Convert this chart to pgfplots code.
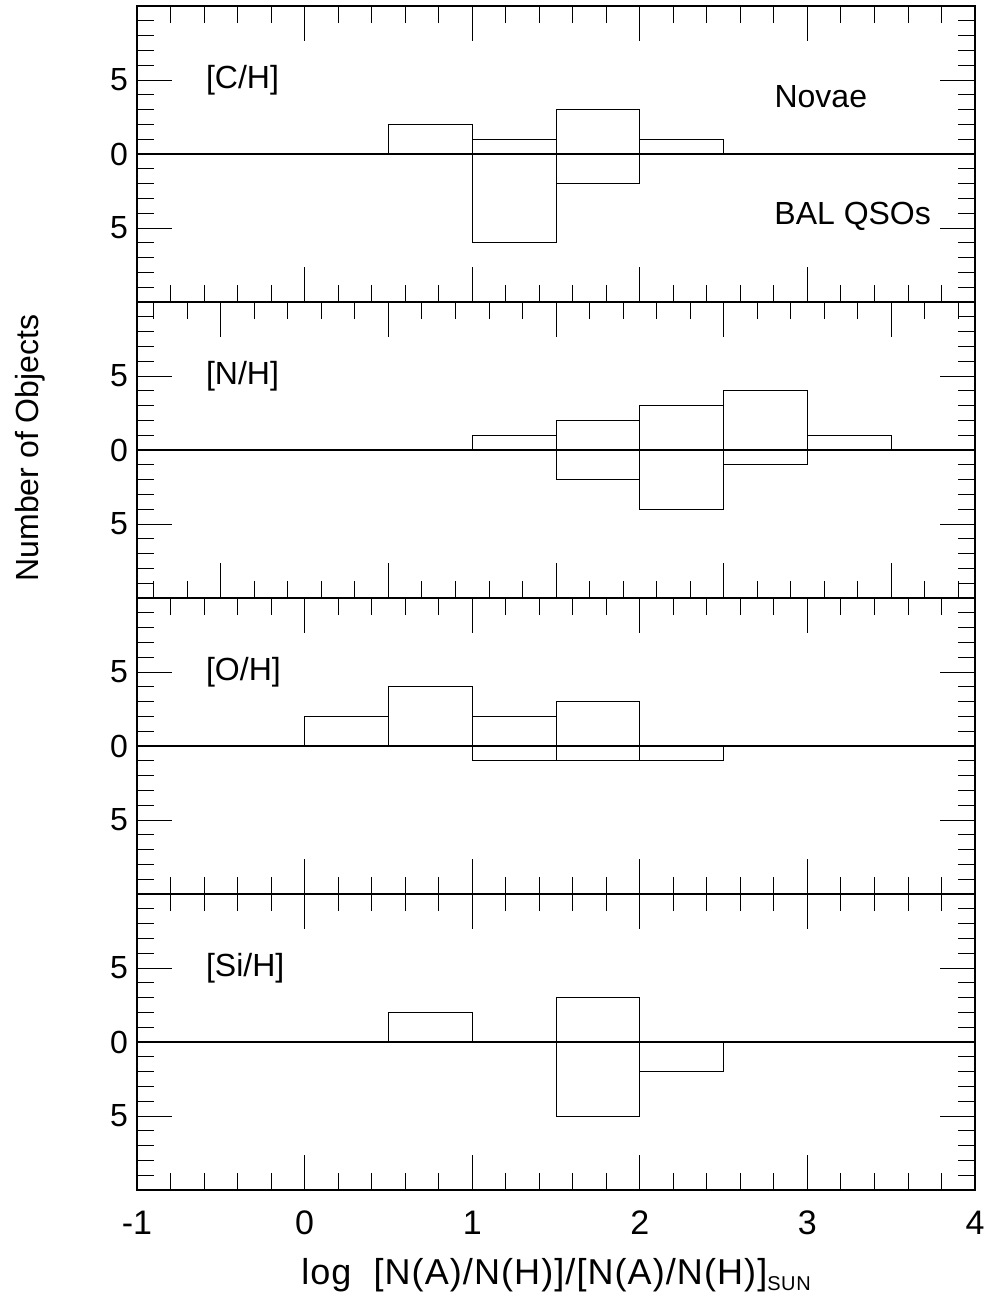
\documentclass[border=0pt]{standalone}
\usepackage{fontspec}
\setmainfont{Liberation Sans}
\usepackage{pgfplots}
\pgfplotsset{compat=1.18}

\tikzset{
  tag/.style={font=\fontsize{16}{18}\selectfont, anchor=west},
}
\pgfplotsset{
  panel/.style={
    scale only axis, width=419pt, height=148pt,
    xmin=-1, xmax=4, ymin=-10, ymax=10,
    xtick={-1,...,4}, minor xtick={-0.8,-0.6,...,3.9},
    ytick={-5,0,5}, yticklabels={5,0,5},
    minor ytick={-9,...,9},
    xtick pos=both, ytick pos=both, tick align=inside,
    major tick length=17.5pt, minor tick length=8.5pt,
    every tick/.style={black, line width=0.45pt},
    axis line style={black, line width=0.8pt},
    xticklabels={},
    yticklabel style={font=\fontsize{16}{18}\selectfont, xshift=-1pt},
    /pgf/number format/assume math mode=true,
    clip=false,
  },
  hbar/.style={ybar interval, draw=black, fill=none, line width=0.5pt},
  zline/.style={black, line width=1pt},
}

\begin{document}
\begin{tikzpicture}
% counts per 0.5 dex bin; the last point closes the interval
\begin{axis}[panel, name=p1]
\addplot[zline] coordinates {(-1,0) (4,0)};
\addplot[hbar] coordinates {(0.5,2) (1.0,1) (1.5,3) (2.0,1) (2.5,0)};
\addplot[hbar] coordinates {(1.0,-6) (1.5,-2) (2.0,0)};
\node[tag] at (axis cs:-0.63,5) {[C/H]};
\node[font=\fontsize{16}{18}\selectfont] at (axis cs:3.08,3.9) {Novae};
\node[font=\fontsize{16}{18}\selectfont] at (axis cs:3.27,-4.2) {BAL QSOs};
\end{axis}

\begin{axis}[panel, name=p2, at={(p1.south west)}, anchor=north west,
  xtick={-0.5,0.5,...,3.6}, minor xtick={-0.9,-0.7,...,3.95}]
\addplot[zline] coordinates {(-1,0) (4,0)};
\addplot[hbar] coordinates {(1.0,1) (1.5,2) (2.0,3) (2.5,4) (3.0,1) (3.5,0)};
\addplot[hbar] coordinates {(1.5,-2) (2.0,-4) (2.5,-1) (3.0,0)};
\node[tag] at (axis cs:-0.63,5) {[N/H]};
\end{axis}

\begin{axis}[panel, name=p3, at={(p2.south west)}, anchor=north west]
\addplot[zline] coordinates {(-1,0) (4,0)};
\addplot[hbar] coordinates {(0.0,2) (0.5,4) (1.0,2) (1.5,3) (2.0,0)};
\addplot[hbar] coordinates {(1.0,-1) (1.5,-1) (2.0,-1) (2.5,0)};
\node[tag] at (axis cs:-0.63,5) {[O/H]};
\end{axis}

\begin{axis}[panel, name=p4, at={(p3.south west)}, anchor=north west,
  xticklabels={-1,0,1,2,3,4},
  xticklabel style={font=\fontsize{17}{19}\selectfont, yshift=-7pt}]
\addplot[zline] coordinates {(-1,0) (4,0)};
\addplot[hbar] coordinates {(0.5,2) (1.0,0) (1.5,3) (2.0,0)};
\addplot[hbar] coordinates {(1.5,-5) (2.0,-2) (2.5,0)};
\node[tag] at (axis cs:-0.63,5) {[Si/H]};
\end{axis}

\node[rotate=90, font=\fontsize{16}{18}\selectfont]
  at ([xshift=-53.5pt, yshift=-221pt]p1.north west) {Number of Objects};
\node[font=\fontsize{18}{20}\selectfont\addfontfeature{LetterSpace=3}]
  at ([yshift=-42.5pt]p4.south) {log\ \ [N(A)/N(H)]/[N(A)/N(H)]\raisebox{-3pt}{\fontsize{10}{11}\selectfont SUN}};

\pgfresetboundingbox
\path ([xshift=-68.5pt, yshift=3pt]p1.north west) rectangle ([xshift=8pt, yshift=-51.5pt]p4.south east);
\end{tikzpicture}
\end{document}
